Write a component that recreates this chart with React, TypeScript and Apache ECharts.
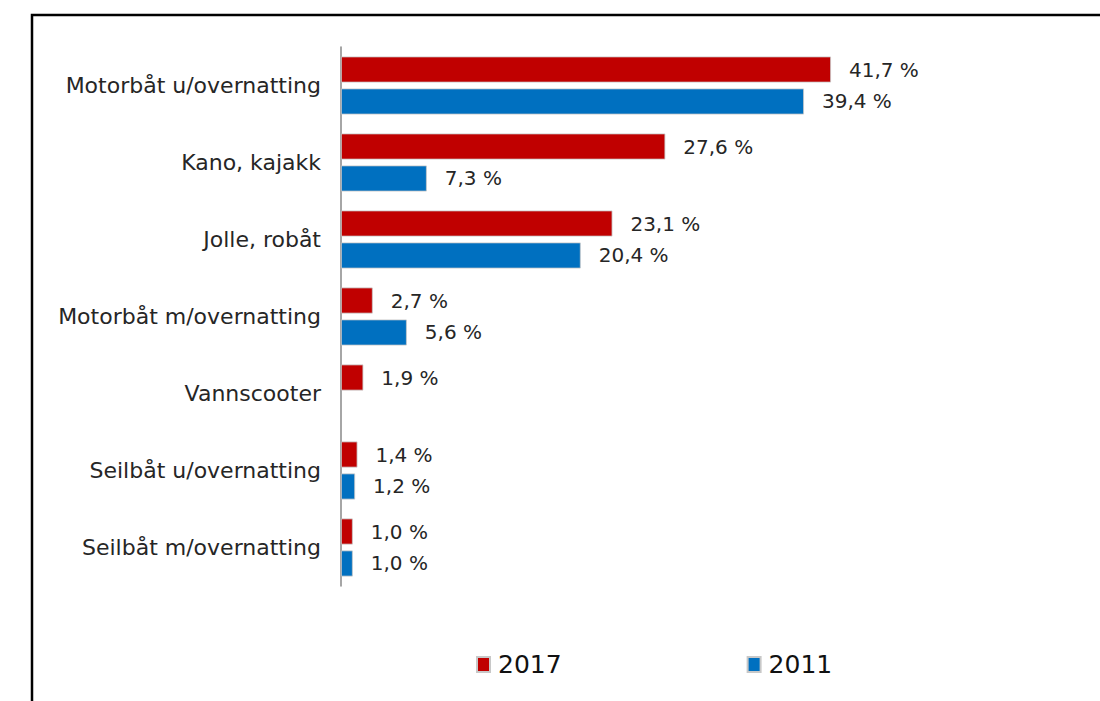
import React, { useEffect, useRef } from "react";
import * as echarts from "echarts";

const categories = [
  "Motorbåt u/overnatting",
  "Kano, kajakk",
  "Jolle, robåt",
  "Motorbåt m/overnatting",
  "Vannscooter",
  "Seilbåt u/overnatting",
  "Seilbåt m/overnatting",
];
const values2017 = [41.7, 27.6, 23.1, 2.7, 1.9, 1.4, 1.0];
const values2011: (number | null)[] = [39.4, 7.3, 20.4, 5.6, null, 1.2, 1.0];
const seriesNames = ["2017", "2011"];
const colors = ["#C00000", "#0070C0"];

const fmt = (p: any) =>
  p.value == null ? "" : Number(p.value).toFixed(1).replace(".", ",") + " %";

export default function App() {
  const ref = useRef<HTMLDivElement>(null);
  useEffect(() => {
    if (!ref.current) return;
    const chart = echarts.init(ref.current, undefined, { renderer: "svg" });
    const font = "'DejaVu Sans', Verdana, sans-serif";
    const labelStyle = {
      show: true,
      position: "right",
      distance: 18,
      formatter: fmt,
      fontSize: 20,
      color: "#262626",
      fontFamily: font,
    };
    chart.setOption({
      animation: false,
      backgroundColor: "#ffffff",
      textStyle: { fontFamily: font },
      graphic: [
        {
          type: "rect",
          shape: { x: 32, y: 15, width: 1200, height: 800 },
          style: { fill: "none", stroke: "#000", lineWidth: 2.5 },
          silent: true,
        },
      ],
      legend: {
        data: seriesNames,
        left: 471,
        top: 647,
        itemWidth: 13,
        itemHeight: 15,
        itemGap: 185,
        icon: "rect",
        textStyle: { fontSize: 25, color: "#111", fontFamily: font, padding: [0, 0, 0, 3] },
      },
      grid: { left: 341, top: 47, height: 539, width: 587.5 },
      xAxis: {
        type: "value",
        min: 0,
        max: 50,
        show: false,
      },
      yAxis: {
        type: "category",
        data: categories,
        inverse: true,
        axisLine: { show: true, lineStyle: { color: "#888", width: 1.5 } },
        axisTick: { show: false },
        axisLabel: {
          fontSize: 22,
          color: "#262626",
          margin: 20,
          fontFamily: font,
        },
      },
      series: [
        {
          name: seriesNames[0],
          type: "bar",
          data: values2017,
          barWidth: 26,
          barGap: "23%",
          itemStyle: { color: colors[0], borderColor: "#c8c8c8", borderWidth: 0.8 },
          label: labelStyle,
        },
        {
          name: seriesNames[1],
          type: "bar",
          data: values2011,
          barWidth: 26,
          barGap: "23%",
          itemStyle: { color: colors[1], borderColor: "#c8c8c8", borderWidth: 0.8 },
          label: labelStyle,
        },
      ],
    });
    return () => chart.dispose();
  }, []);
  return (
    <div
      ref={ref}
      style={{ position: "fixed", left: 0, top: 0, width: 1100, height: 701 }}
    />
  );
}
